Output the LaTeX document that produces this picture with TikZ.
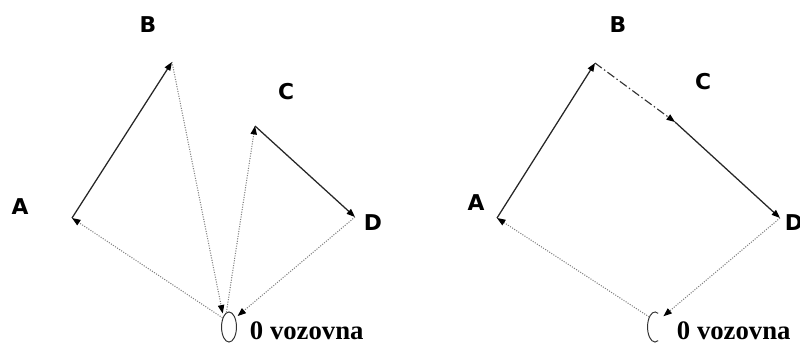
\documentclass[tikz,border=0pt]{standalone}
\usepackage{fontspec}
\setmainfont{Liberation Serif}
\setsansfont{DejaVu Sans}
\usetikzlibrary{arrows.meta,shapes.geometric}

\tikzset{
  oznaka/.style={font=\sffamily\bfseries\fontsize{15.5}{15.5}\selectfont},
  napis/.style={font=\rmfamily\bfseries\fontsize{19}{19}\selectfont},
  depot/.style={ellipse,inner sep=0pt,minimum width=10.6pt,minimum height=21.4pt},
  vozi/.style={line width=0.9pt,black!85,-{Triangle[length=6pt,width=4.5pt,black]}},
  prazna/.style={line width=0.75pt,gray,densely dotted,-{Triangle[length=6pt,width=4.5pt,black]}},
  crtapika/.style={line width=0.8pt,black!80,dash pattern=on 6pt off 2pt on 1pt off 2pt,-{Triangle[length=6pt,width=4.5pt,black]}}
}

\begin{document}
\begin{tikzpicture}[x=0.025cm,y=-0.025cm]
  \useasboundingbox (0,0) rectangle (800,345);

  % levo: vsaka voznja posebej
  \path
    (72,218)  coordinate (a1)
    (172,62)  coordinate (b1)
    (255,126) coordinate (c1)
    (355,217) coordinate (d1);
  \node[depot,draw,line width=0.7pt,black!80] (dep1) at (229,327) {};

  \node[oznaka] (la1) at (20,207) {A};
  \node[oznaka] (lb1) at (148,25) {B};
  \node[oznaka] (lc1) at (286,92) {C};
  \node[oznaka] (ld1) at (373,223) {D};
  \node[napis,anchor=west] (v1) at (245,331) {0 vozovna};

  % polne voznje
  \draw[vozi] (a1) -- (b1);
  \draw[vozi] (c1) -- (d1);
  % prazne voznje
  \draw[prazna,shorten >=2pt] (b1) -- (dep1.118);
  \draw[prazna] (dep1.100) -- (c1);
  \draw[prazna,shorten >=2pt] (d1) -- (dep1.55);
  \draw[prazna] (dep1.125) -- (a1);

  % desno: povezana voznja
  \path
    (497,218) coordinate (a2)
    (595,63)  coordinate (b2)
    (675,122) coordinate (c2)
    (780,218) coordinate (d2);
  \node[depot] (dep2) at (655,327) {};
  \draw[line width=0.7pt,black!80] (dep2.center) ++(65:5.3pt and 10.7pt)
    arc[start angle=65,end angle=295,x radius=5.3pt,y radius=10.7pt];

  \node[oznaka] (la2) at (476,203) {A};
  \node[oznaka] (lb2) at (618,25) {B};
  \node[oznaka] (lc2) at (703,82) {C};
  \node[oznaka] (ld2) at (794,223) {D};
  \node[napis,anchor=west] (v2) at (672,331) {0 vozovna};

  \draw[vozi] (a2) -- (b2);
  \draw[crtapika] (b2) -- (c2);
  \draw[vozi] (c2) -- (d2);
  \draw[prazna,shorten >=2pt] (d2) -- (dep2.55);
  \draw[prazna] (dep2.120) -- (a2);
\end{tikzpicture}
\end{document}
